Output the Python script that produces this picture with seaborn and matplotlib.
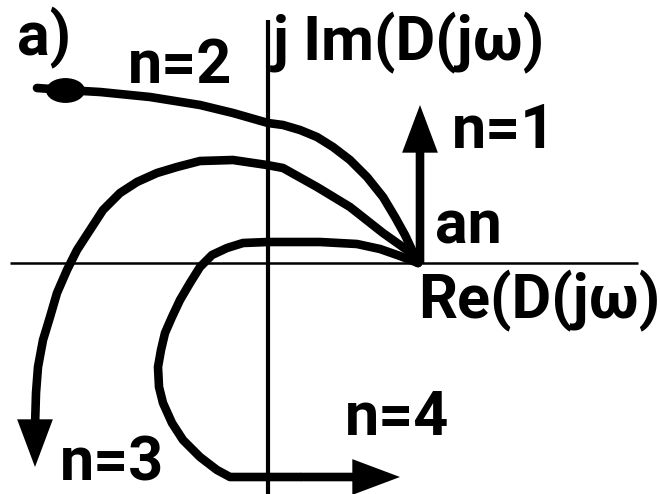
import numpy as np
import pandas as pd
import matplotlib
matplotlib.use("Agg")
import matplotlib.pyplot as plt
from matplotlib.path import Path
from matplotlib.transforms import Affine2D
import seaborn as sns

# Mikhailov hodographs D(jw) for degrees n = 1..4, all starting at a_n on the real axis
n1_re = [1.52, 1.52]
n1_im = [0.00, 1.58]

n2_re = [1.50, 1.44, 1.37, 1.27, 1.15, 0.99, 0.82, 0.65, 0.49, 0.32, 0.15, 0.00,
         -0.35, -0.68, -1.18, -1.68, -2.03, -2.31]
n2_im = [0.00, 0.13, 0.28, 0.46, 0.66, 0.86, 1.03, 1.16, 1.26, 1.33, 1.38, 1.40,
         1.50, 1.58, 1.66, 1.71, 1.73, 1.75]

n3_re = [1.50, 1.39, 1.15, 0.82, 0.49, 0.15, -0.01, -0.35, -0.68, -0.91, -1.11, -1.31,
         -1.48, -1.65, -1.78, -1.91, -2.01, -2.11, -2.18, -2.25, -2.30, -2.32, -2.33, -2.33]
n3_im = [0.00, 0.13, 0.30, 0.56, 0.76, 0.95, 0.98, 1.03, 1.02, 0.96, 0.90, 0.81,
         0.70, 0.53, 0.33, 0.13, -0.07, -0.30, -0.54, -0.77, -1.04, -1.30, -1.64, -2.04]

n4_re = [1.50, 1.32, 1.12, 0.89, 0.52, 0.00, -0.25, -0.41, -0.56, -0.68, -0.78, -0.88,
         -0.96, -1.03, -1.07, -1.10, -1.09, -1.05, -0.96, -0.85, -0.68, -0.51, -0.38,
         0.32, 1.32]
n4_im = [0.00, 0.07, 0.14, 0.19, 0.21, 0.21, 0.20, 0.15, 0.08, -0.04, -0.20, -0.37,
         -0.54, -0.70, -0.87, -1.04, -1.24, -1.40, -1.60, -1.77, -1.94, -2.07, -2.14,
         -2.14, -2.14]

labels = ["a)", "n=2", "j Im(D(jω)", "n=1", "an", "Re(D(jω)", "n=4", "n=3"]
label_re = [-2.51, -1.40, 0.05, 1.84, 1.67, 1.50, 0.77, -2.08]
label_im = [2.08, 1.80, 2.03, 1.15, 0.20, -0.55, -1.72, -2.17]

sns.set_style("white")
plt.rcParams["font.family"] = ["Roboto", "DejaVu Sans"]

fig = plt.figure(figsize=(6.6, 4.94), dpi=100)
ax = fig.add_axes([0, 0, 1, 1])
ax.set_xlim(-2.68, 3.92)
ax.set_ylim(-2.31, 2.63)
ax.axis("off")

# coordinate axes
ax.plot([-2.58, 3.70], [0, 0], color="black", lw=1.8, solid_capstyle="butt")
ax.plot([0, 0], [-2.31, 2.43], color="black", lw=3.0, solid_capstyle="butt")

lw = 6.2
# curve bodies up to the last segment; the last segment carries the arrowhead
bodies = [(n2_re, n2_im), (n3_re[:-1], n3_im[:-1]), (n4_re[:-1], n4_im[:-1])]
for re, im in bodies:
    df = pd.DataFrame({"re": re, "im": im})
    sns.lineplot(data=df, x="re", y="im", sort=False, estimator=None, ax=ax,
                 color="black", linewidth=lw, solid_capstyle="round",
                 solid_joinstyle="round")

head = "-|>,head_length=0.8,head_width=0.3"
for re, im in [(n1_re, n1_im), (n3_re, n3_im), (n4_re, n4_im)]:
    ax.annotate("", xy=(re[-1], im[-1]), xytext=(re[-2], im[-2]),
                arrowprops=dict(arrowstyle=head, mutation_scale=28, color="black",
                                lw=lw, shrinkA=0, shrinkB=0, joinstyle="miter",
                                capstyle="butt"))

# blob on the start of the n=2 branch
blob = Path.unit_circle().transformed(Affine2D().scale(1.6, 1.0))
ax.plot([n2_re[-2]], [n2_im[-2]], marker=blob, markersize=27, color="black")

for t, x, y in zip(labels, label_re, label_im):
    ax.text(x, y, t, fontsize=44, fontweight="bold", ha="left", va="baseline",
            color="black")

fig.savefig("out.png", dpi=100)
